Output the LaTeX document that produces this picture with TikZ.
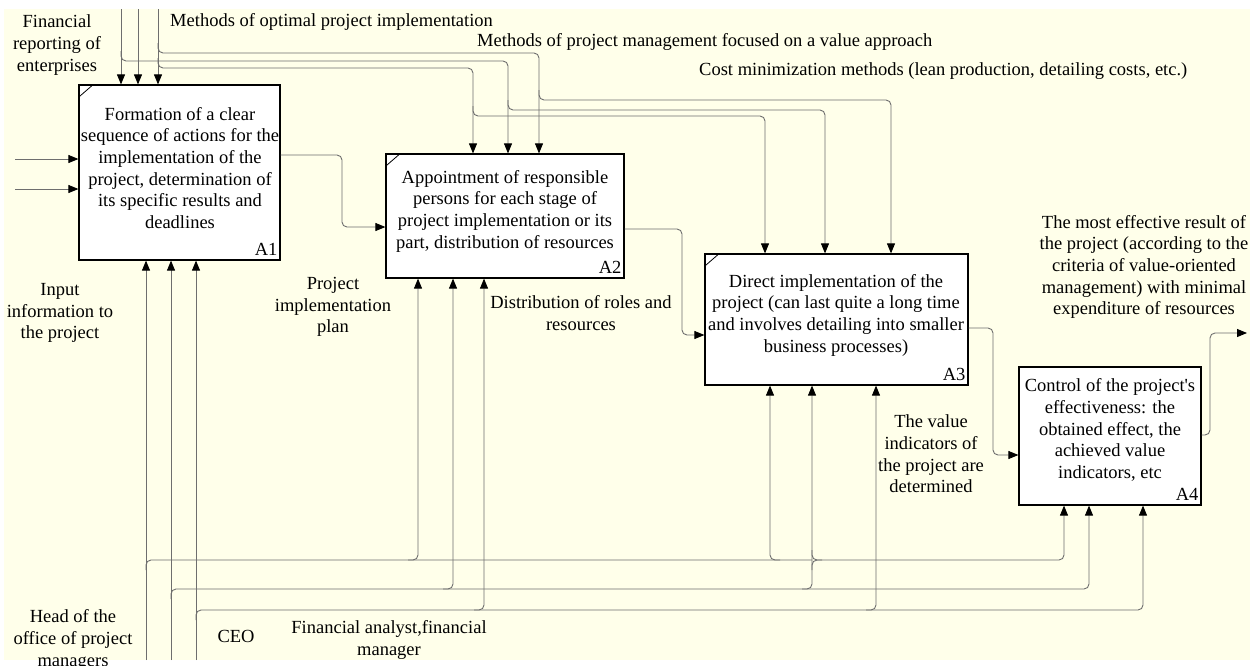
\documentclass[tikz,border=0pt]{standalone}
\usepackage{fontspec}
\setmainfont{Liberation Serif}
\usetikzlibrary{arrows.meta,calc}
\definecolor{cream}{RGB}{255,255,234}
\definecolor{wirec}{RGB}{110,110,110}
\begin{document}
\begin{tikzpicture}[x=1pt,y=-1pt,
  every node/.style={font=\fontsize{18.5}{21.7}\selectfont, text=black},
  box/.style={draw=black, line width=1.2pt, fill=white, inner sep=0pt},
  btxt/.style={align=center, inner sep=0pt},
  lbl/.style={align=center, inner sep=0pt},
  num/.style={anchor=base east, inner sep=0pt},
  wire/.style={draw=wirec, line width=0.9pt, rounded corners=5pt},
  arr/.style={-{Triangle[length=10pt,width=8pt,color=black]}},
  tick/.style={draw=black, line width=0.8pt}]
\useasboundingbox (0,0) rectangle (1250,665);
\fill[white] (0,0) rectangle (1250,665);
\fill[cream] (4,9) rectangle (1250,660);

% boxes
\node[box, minimum width=201pt, minimum height=175pt] (A1) at (179.5,172.5) {};
\node[box, minimum width=238pt, minimum height=124pt] (A2) at (505,216) {};
\node[box, minimum width=263pt, minimum height=131pt] (A3) at (836.5,319.5) {};
\node[box, minimum width=182pt, minimum height=138pt] (A4) at (1110,436) {};

\node[btxt] (A1t) at (180,168) {Formation of a clear\\sequence of actions for the\\implementation of the\\project, determination of\\its specific results and\\deadlines};
\node[btxt] (A2t) at (505,211) {Appointment of responsible\\persons for each stage of\\project implementation or its\\part, distribution of resources};
\node[btxt] (A3t) at (836,315) {Direct implementation of the\\project (can last quite a long time\\and involves detailing into smaller\\business processes)};
\node[btxt] (A4t) at (1110,430) {Control of the project\textquotesingle s\\effectiveness: the\\obtained effect, the\\achieved value\\indicators, etc};

\node[num] (A1n) at ([xshift=-3pt,yshift=5pt]A1.south east) {A1};
\node[num] (A2n) at ([xshift=-3pt,yshift=5pt]A2.south east) {A2};
\node[num] (A3n) at ([xshift=-3pt,yshift=5pt]A3.south east) {A3};
\node[num] (A4n) at ([xshift=-3pt,yshift=5pt]A4.south east) {A4};

\draw[tick] ([yshift=-13pt]A1.north west) -- ([xshift=15pt]A1.north west);
\draw[tick] ([yshift=-13pt]A2.north west) -- ([xshift=15pt]A2.north west);
\draw[tick] ([yshift=-13pt]A3.north west) -- ([xshift=15pt]A3.north west);

% free ends and junctions
\coordinate (t1) at (121,9);
\coordinate (t2) at (138,9);
\coordinate (t3) at (158,9);
\coordinate (i1) at (15,159);
\coordinate (i2) at (15,189);
\coordinate (m1) at (146,660);
\coordinate (m2) at (171,660);
\coordinate (m3) at (196,660);
\coordinate (o4) at (1247,333);

\coordinate (k1) at (539,53);
\coordinate (k2) at (508,61);
\coordinate (k3) at (473,68);
\coordinate (k4) at (891,100);
\coordinate (k5) at (825,110);
\coordinate (k6) at (765,116);

\coordinate (q1a) at (342,155);  \coordinate (q1b) at (342,227);
\coordinate (q2a) at (682,229);  \coordinate (q2b) at (682,335);
\coordinate (q3a) at (993,328);  \coordinate (q3b) at (993,455);
\coordinate (q4a) at (1210,435); \coordinate (q4b) at (1210,333);

\coordinate (h1) at (146,560);
\coordinate (h2) at (171,589);
\coordinate (h3) at (196,610);
\coordinate (g1) at (418,560);
\coordinate (g2) at (453,589);
\coordinate (g3) at (484,610);
\coordinate (g4) at (770,560);
\coordinate (g5) at (812,589);
\coordinate (g6) at (876,610);
\coordinate (g7) at (1064,560);
\coordinate (g8) at (1089,589);
\coordinate (g9) at (1143,610);

% controls
\draw[wire,arr] (t1) -- (t1 |- A1.north);
\draw[wire,arr] (t2) -- (t2 |- A1.north);
\draw[wire,arr] (t3) -- (t3 |- A1.north);
\draw[wire,arr] (158,43) -- (158,53) -- (k1) -- (k1 |- A2.north);
\draw[wire,arr] (121,51) -- (121,61) -- (k2) -- (k2 |- A2.north);
\draw[wire,arr] (158,58) -- (158,68) -- (k3) -- (k3 |- A2.north);
\draw[wire,arr] (539,90) -- (539,100) -- (k4) -- (k4 |- A3.north);
\draw[wire,arr] (508,100) -- (508,110) -- (k5) -- (k5 |- A3.north);
\draw[wire,arr] (473,106) -- (473,116) -- (k6) -- (k6 |- A3.north);

% inputs
\draw[wire,arr] (i1) -- (i1 -| A1.west);
\draw[wire,arr] (i2) -- (i2 -| A1.west);

% outputs
\draw[wire,arr] (q1a -| A1.east) -- (q1a) -- (q1b) -- (q1b -| A2.west);
\draw[wire,arr] (q2a -| A2.east) -- (q2a) -- (q2b) -- (q2b -| A3.west);
\draw[wire,arr] (q3a -| A3.east) -- (q3a) -- (q3b) -- (q3b -| A4.west);
\draw[wire,arr] (q4a -| A4.east) -- (q4a) -- (q4b) -- (o4);

% mechanisms
\draw[wire,arr] (m1) -- (m1 |- A1.south);
\draw[wire,arr] (m2) -- (m2 |- A1.south);
\draw[wire,arr] (m3) -- (m3 |- A1.south);
\draw[wire] (146,570) -- (h1) -- (812,560);
\draw[wire,arr] (408,560) -- (g1) -- (g1 |- A2.south);
\draw[wire,arr] (443,589) -- (g2) -- (g2 |- A2.south);
\draw[wire,arr] (474,610) -- (g3) -- (g3 |- A2.south);
\draw[wire,arr] (780,560) -- (g4) -- (g4 |- A3.south);
\draw[wire,arr] (802,589) -- (g5) -- (g5 |- A3.south);
\draw[wire,arr] (866,610) -- (g6) -- (g6 |- A3.south);
\draw[wire,arr] (812,550) -- (812,560) -- (g7) -- (g7 |- A4.south);
\draw[wire] (812,570) -- (812,560) -- (822,560);
\draw[wire,arr] (171,599) -- (h2) -- (g8) -- (g8 |- A4.south);
\draw[wire,arr] (196,620) -- (h3) -- (g9) -- (g9 |- A4.south);

% labels
\node[lbl] (L1) at (57,45) {Financial\\reporting of\\enterprises};
\node[lbl, anchor=west] (L2) at (170,22) {Methods of optimal project implementation};
\node[lbl, anchor=west] (L3) at (477,42) {Methods of project management focused on a value approach};
\node[lbl, anchor=west] (L4) at (699,71) {Cost minimization methods (lean production, detailing costs, etc.)};
\node[lbl] (L5) at (60,313) {Input\\information to\\the project};
\node[lbl] (L6) at (333,307) {Project\\implementation\\plan};
\node[lbl] (L7) at (581,313) {Distribution of roles and\\resources};
\node[lbl] (L8) at (931,454) {The value\\indicators of\\the project are\\determined};
\node[lbl] (L9) at (1144,267) {The most effective result of\\the project (according to the\\criteria of value-oriented\\management) with minimal\\expenditure of resources};
\node[lbl] (L10) at (73,640) {Head of the\\office of project\\managers};
\node[lbl] (L11) at (236,636) {CEO};
\node[lbl] (L12) at (389,640) {Financial analyst,financial\\manager};
\end{tikzpicture}
\end{document}
